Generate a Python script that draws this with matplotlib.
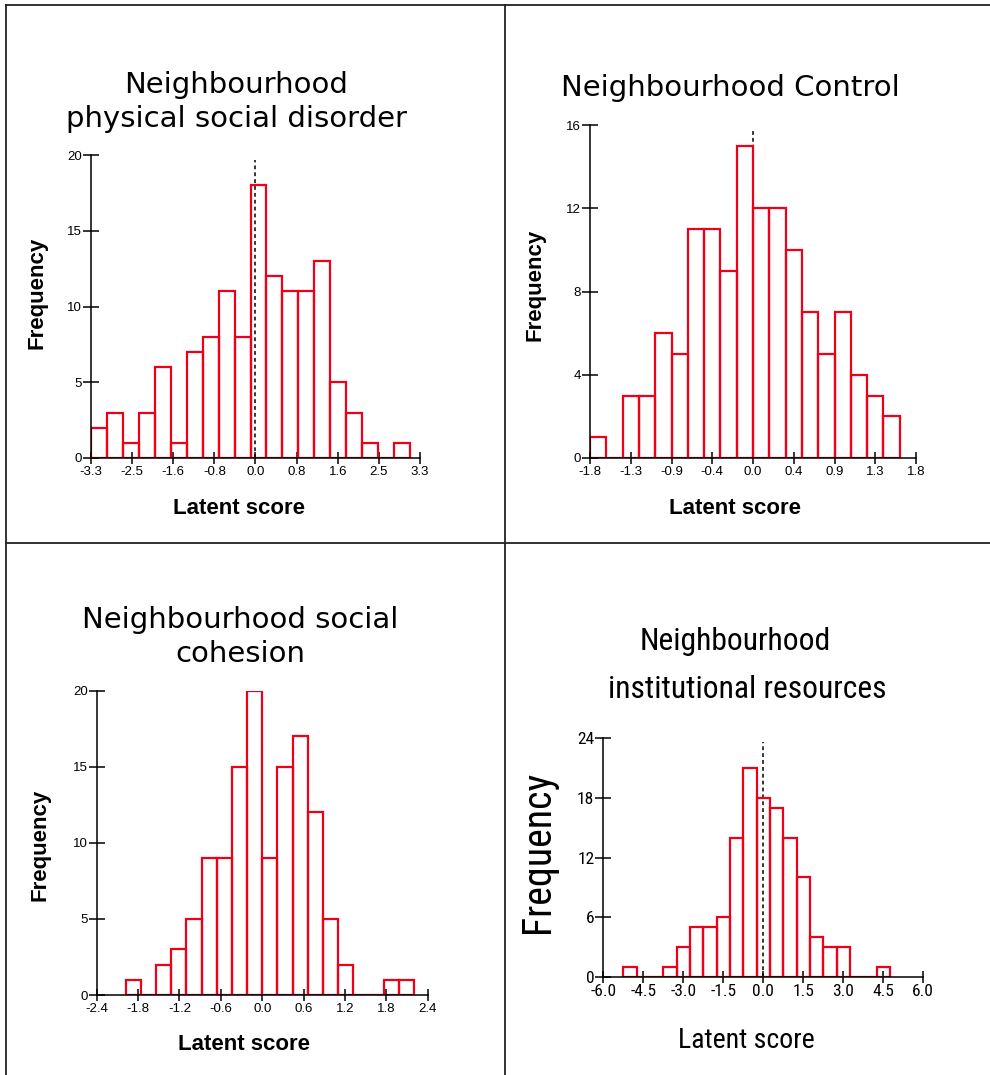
import numpy as np
import matplotlib
matplotlib.use('Agg')
import matplotlib.pyplot as plt
from matplotlib import font_manager
from matplotlib.font_manager import FontProperties
from matplotlib.lines import Line2D

# data (counts per bin, left to right)
pd_counts = [2, 3, 1, 3, 6, 1, 7, 8, 11, 8, 18, 12, 11, 11, 13, 5, 3, 1, 0, 1]
pd_start, pd_width = -3.3, 0.32
pd_ticklabels = ['-3.3', '-2.5', '-1.6', '-0.8', '0.0', '0.8', '1.6', '2.5', '3.3']

nc_counts = [1, 0, 3, 3, 6, 5, 11, 11, 9, 15, 12, 12, 10, 7, 5, 7, 4, 3, 2]
nc_start, nc_width = -1.8, 0.18
nc_ticklabels = ['-1.8', '-1.3', '-0.9', '-0.4', '0.0', '0.4', '0.9', '1.3', '1.8']

sc_counts = [1, 0, 2, 3, 5, 9, 9, 15, 20, 9, 15, 17, 12, 5, 2, 0, 0, 1, 1]
sc_start, sc_width = -1.98, 0.22
sc_ticklabels = ['-2.4', '-1.8', '-1.2', '-0.6', '0.0', '0.6', '1.2', '1.8', '2.4']

ir_counts = [1, 0, 0, 1, 3, 5, 5, 6, 14, 21, 18, 17, 14, 10, 4, 3, 3, 0, 0, 1]
ir_start, ir_width = -5.25, 0.5
ir_ticklabels = ['-6.0', '-4.5', '-3.0', '-1.5', '0.0', '1.5', '3.0', '4.5', '6.0']

W, H = 990, 1075
fig = plt.figure(figsize=(W / 100, H / 100), dpi=100)
fig.patch.set_facecolor('white')


def pick_narrow():
    # try to find a condensed / narrow face, else plain Arial-like
    cands = [('Liberation Sans Narrow', 'normal'), ('Arial Narrow', 'normal'),
             ('Roboto Condensed', 'normal'), ('DejaVu Sans', 'condensed'),
             ('Noto Sans', 'condensed'), ('Open Sans', 'condensed'),
             ('Roboto', 'condensed')]
    for name, stretch in cands:
        try:
            p = font_manager.findfont(FontProperties(family=name, stretch=stretch),
                                      fallback_to_default=False)
        except Exception:
            continue
        low = p.lower()
        if 'narrow' in low or 'condensed' in low:
            return FontProperties(fname=p)
    return FontProperties(family='Liberation Sans')


narrow_fp = pick_narrow()
arial = ['Liberation Sans', 'DejaVu Sans']
renderer = fig.canvas.get_renderer()


def px_axes(x0, x1, y0, y1):
    # x0..x1, y0 (top) .. y1 (bottom) in pixel coords
    return fig.add_axes([x0 / W, 1 - y1 / H, (x1 - x0) / W, (y1 - y0) / H])


def ftext(x, y, s, fit=None, **kw):
    t = fig.text(x / W, 1 - y / H, s, ha='center', va='center', **kw)
    if fit is not None:
        # scale font so the text spans about `fit` pixels along its run
        bb = t.get_window_extent(renderer)
        span = bb.height if kw.get('rotation', 0) == 90 else bb.width
        t.set_fontsize(t.get_fontsize() * fit / span)
    return t


def hist_panel(ax, counts, start, width, lim, ymax, yticks, ticklabels, tickfont):
    edges = start + width * np.arange(len(counts))
    ax.axvline(0, ymin=0, ymax=0.985, color='black', ls=(0, (2.5, 2)), lw=1.1, zorder=1)
    ax.bar(edges, counts, width=width, align='edge', facecolor='none',
           edgecolor='#f00018', linewidth=1.6, zorder=2)
    ax.set_xlim(-lim, lim)
    ax.set_ylim(0, ymax)
    ax.set_xticks(np.linspace(-lim, lim, 9))
    ax.set_xticklabels(ticklabels)
    ax.set_yticks(yticks)
    ax.set_yticklabels([str(v) for v in yticks])
    for lab in ax.get_xticklabels() + ax.get_yticklabels():
        if isinstance(tickfont, FontProperties):
            lab.set_fontproperties(tickfont)
        else:
            lab.set_family(tickfont)
            lab.set_fontsize(9.5)
    for s in ['top', 'right']:
        ax.spines[s].set_visible(False)
    for s in ['left', 'bottom']:
        ax.spines[s].set_linewidth(1.1)
        ax.spines[s].set_zorder(3)
    ax.tick_params(axis='y', direction='inout', length=11, width=1.1, pad=1)
    ax.tick_params(axis='x', direction='inout', length=9, width=1.1, pad=1)
    ax.patch.set_visible(False)


# panel 1
ax1 = px_axes(91, 420, 155, 458)
hist_panel(ax1, pd_counts, pd_start, pd_width, 3.3, 20, [0, 5, 10, 15, 20],
           pd_ticklabels, arial)
ftext(236, 102, 'Neighbourhood\nphysical social disorder', fontsize=21,
      family='DejaVu Sans', linespacing=1.3)
ftext(37, 293, 'Frequency', fontsize=16, fontweight='bold', family=arial, rotation=90)
ftext(239, 508, 'Latent score', fontsize=16, fontweight='bold', family=arial)

# panel 2
ax2 = px_axes(590, 916, 125, 458)
hist_panel(ax2, nc_counts, nc_start, nc_width, 1.8, 16, [0, 4, 8, 12, 16],
           nc_ticklabels, arial)
ftext(730, 88, 'Neighbourhood Control', fontsize=21, family='DejaVu Sans')
ftext(535, 285, 'Frequency', fontsize=16, fontweight='bold', family=arial, rotation=90)
ftext(735, 509, 'Latent score', fontsize=16, fontweight='bold', family=arial)

# panel 3
ax3 = px_axes(96.7, 427.7, 690.7, 995)
hist_panel(ax3, sc_counts, sc_start, sc_width, 2.4, 20, [0, 5, 10, 15, 20],
           sc_ticklabels, arial)
ftext(240, 637, 'Neighbourhood social\ncohesion', fontsize=21,
      family='DejaVu Sans', linespacing=1.3)
ftext(40, 845, 'Frequency', fontsize=16, fontweight='bold', family=arial, rotation=90)
ftext(244, 1045, 'Latent score', fontsize=16, fontweight='bold', family=arial)

# panel 4 (narrow face in the original)
tick_fp = narrow_fp.copy()
tick_fp.set_size(12.5)
ax4 = px_axes(603.3, 923.3, 738.3, 976.7)
hist_panel(ax4, ir_counts, ir_start, ir_width, 6.0, 24, [0, 6, 12, 18, 24],
           ir_ticklabels, tick_fp)
t_fp2 = narrow_fp.copy()
t_fp2.set_size(24)
t2 = ftext(747, 689, 'institutional resources', fit=280, fontproperties=t_fp2)
t_fp = narrow_fp.copy()
t_fp.set_size(t2.get_fontsize())
ftext(735, 641, 'Neighbourhood', fontproperties=t_fp)
f_fp = narrow_fp.copy()
f_fp.set_size(20)
ftext(538, 852, 'Frequency', fit=162, fontproperties=f_fp, rotation=90)
l_fp = narrow_fp.copy()
l_fp.set_size(20)
ftext(746, 1040, 'Latent score', fit=137, fontproperties=l_fp)

# frame lines
for (x0, y0, x1, y1) in [(6, 5, 990, 5), (6, 5, 6, 1075), (505, 5, 505, 1075),
                         (6, 543, 990, 543)]:
    fig.add_artist(Line2D([x0 / W, x1 / W], [1 - y0 / H, 1 - y1 / H],
                          color='#222222', lw=1.3, transform=fig.transFigure))

fig.savefig('out.png', dpi=100, facecolor='white')
